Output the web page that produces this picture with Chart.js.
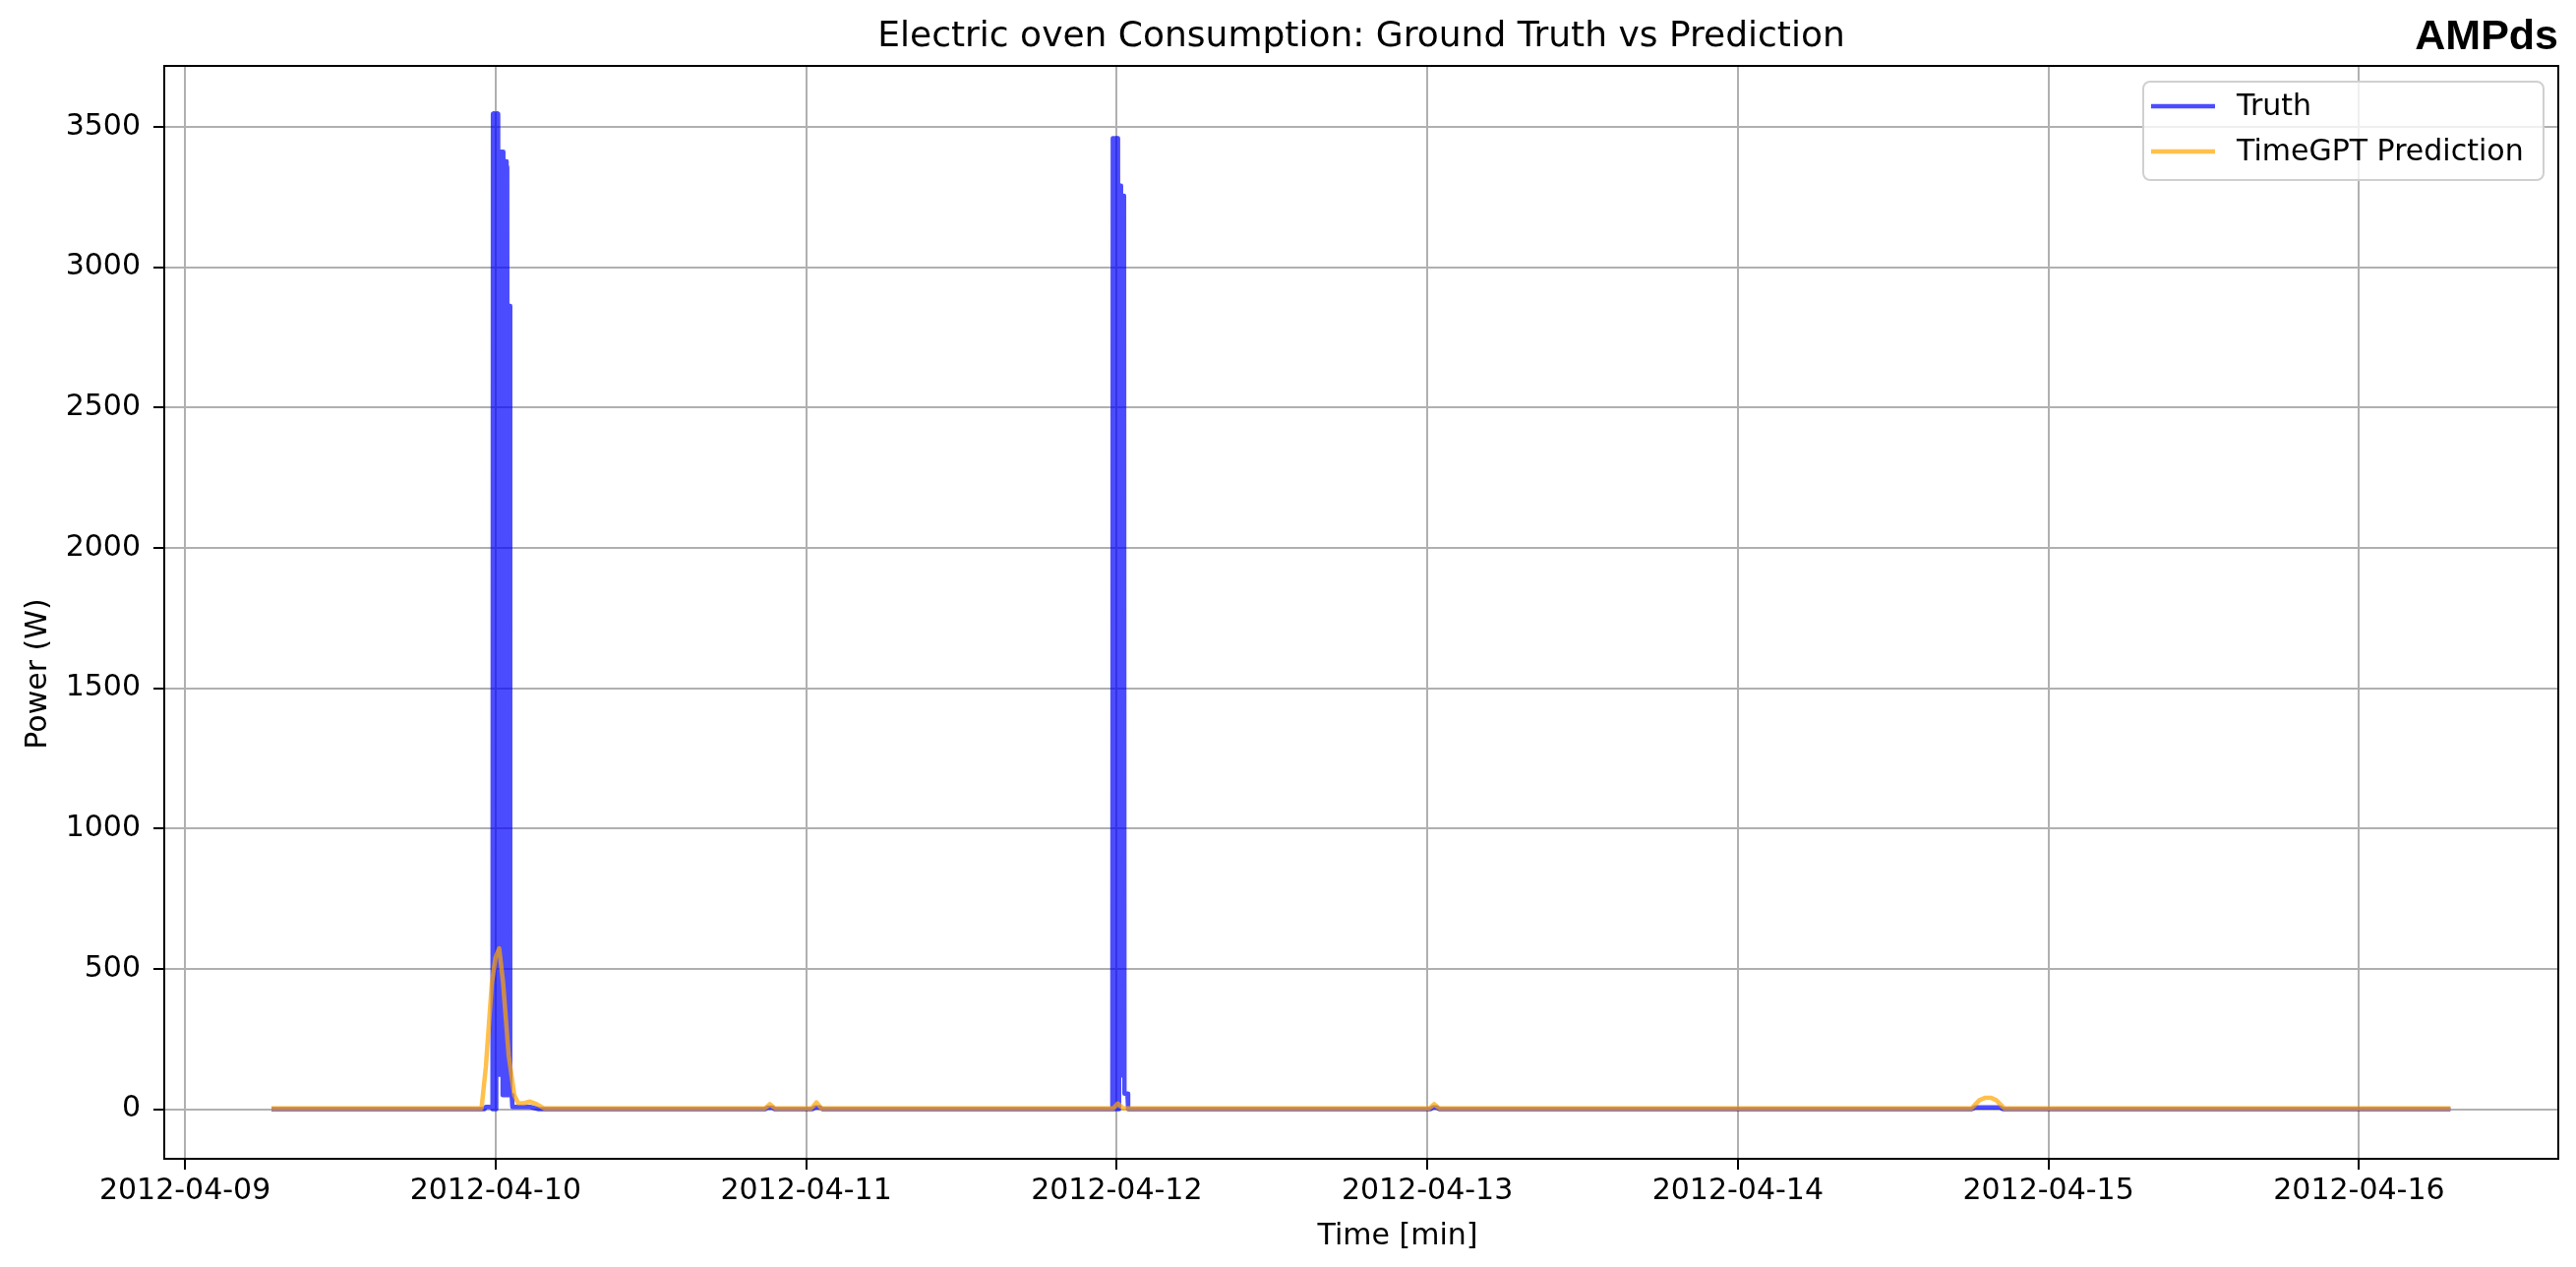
<!DOCTYPE html>
<html>
<head>
<meta charset="utf-8">
<title>Electric oven Consumption: Ground Truth vs Prediction</title>
<script src="https://cdn.jsdelivr.net/npm/chart.js@4/dist/chart.umd.min.js"></script>
<style>
  html, body { margin: 0; padding: 0; background: #fff; }
  #wrap { width: 2619px; height: 1288px; }
</style>
</head>
<body>
<div id="wrap"><canvas id="ovenChart" width="2619" height="1288"></canvas></div>
<script>
/* global Chart */
// x values are minutes since 2012-04-09 00:00
const truthMinutes = [
  401, 1388, 1395, 1420, 1426, 1428, 1431, 1434, 1437, 1440, 1443, 1446,
  1449, 1452, 1455, 1458, 1461, 1464, 1467, 1470, 1473, 1476, 1479, 1482,
  1485, 1488, 1491, 1494, 1497, 1500, 1503, 1506, 1508, 1515, 1518, 1600,
  1640, 2690, 2700, 2725, 2735, 2910, 2920, 2945, 2955,
  4300, 4302, 4305, 4308, 4311, 4314, 4317, 4320, 4323, 4326, 4329, 4331,
  4334, 4337, 4340, 4342, 4345, 4348, 4351, 4354, 4356, 4370, 4373,
  5775, 5785, 5805, 5815, 8284, 8300, 8415, 8430, 10504
];
const truthWatts = [
  0, 0, 8, 8, 0, 3546, 0, 3546, 0, 3546, 0, 3546,
  123, 3546, 123, 3411, 123, 3411, 123, 3411, 50, 3411, 50, 3377,
  50, 3377, 50, 3357, 50, 2862, 50, 2862, 50, 50, 8, 8,
  0, 0, 5, 5, 0, 0, 6, 6, 0,
  0, 3459, 0, 3459, 0, 3459, 0, 3459, 0, 3459, 0, 3290,
  120, 3290, 120, 3254, 120, 3254, 120, 3254, 55, 55, 0,
  0, 6, 6, 0, 0, 6, 6, 0, 0
];

const predMinutes = [
  401, 1375, 1395, 1423, 1440, 1457, 1475, 1501, 1527, 1545, 1571, 1600,
  1630, 1665, 2690, 2712, 2735, 2905, 2928, 2950, 4305, 4325, 4350,
  5770, 5792, 5815, 8284, 8320, 8345, 8375, 8398, 8435, 10504
];
const predWatts = [
  3, 3, 150, 450, 540, 573, 450, 190, 50, 21, 21, 27,
  18, 3, 3, 18, 3, 3, 24, 3, 3, 20, 3,
  3, 18, 3, 3, 32, 40, 40, 32, 3, 3
];

const dayTicks = [0, 1440, 2880, 4320, 5760, 7200, 8640, 10080];
const dayLabels = [
  "2012-04-09", "2012-04-10", "2012-04-11", "2012-04-12",
  "2012-04-13", "2012-04-14", "2012-04-15", "2012-04-16"
];
const powerTicks = [0, 500, 1000, 1500, 2000, 2500, 3000, 3500];

const chartTitle = "Electric oven Consumption: Ground Truth vs Prediction";
const cornerTag = "AMPds";
const xTitle = "Time [min]";
const yTitle = "Power (W)";

const FONT = "'DejaVu Sans', sans-serif";
const BLUE = "rgba(0, 0, 255, 0.7)";
const ORANGE = "rgba(255, 165, 0, 0.7)";

function toPoints(xs, ys) {
  return xs.map(function (x, i) {
    return { x: x, y: ys[i] };
  });
}

function roundedRect(ctx, x, y, w, h, r) {
  ctx.beginPath();
  ctx.moveTo(x + r, y);
  ctx.arcTo(x + w, y, x + w, y + h, r);
  ctx.arcTo(x + w, y + h, x, y + h, r);
  ctx.arcTo(x, y + h, x, y, r);
  ctx.arcTo(x, y, x + w, y, r);
  ctx.closePath();
}

// frame, titles and the boxed legend, drawn the matplotlib way
const decorations = {
  id: "decorations",
  afterDatasetsDraw(chart) {
    const ctx = chart.ctx;
    const a = chart.chartArea;
    ctx.save();
    ctx.strokeStyle = "#000";
    ctx.lineWidth = 2;
    ctx.strokeRect(a.left, a.top, a.right - a.left, a.bottom - a.top);
    ctx.restore();
  },
  afterDraw(chart) {
    const ctx = chart.ctx;
    const a = chart.chartArea;
    const midX = (a.left + a.right) / 2;
    ctx.save();
    ctx.fillStyle = "#000";

    ctx.font = "36px " + FONT;
    ctx.textAlign = "center";
    ctx.textBaseline = "alphabetic";
    ctx.fillText(chartTitle, midX, 47);

    ctx.font = "bold 43px 'Liberation Sans', Arial, sans-serif";
    ctx.textAlign = "right";
    ctx.fillText(cornerTag, 2601, 50);

    ctx.font = "30px " + FONT;
    ctx.textAlign = "center";
    ctx.fillText(xTitle, 1421, 1265);

    ctx.save();
    ctx.translate(47, 685);
    ctx.rotate(-Math.PI / 2);
    ctx.fillText(yTitle, 0, 0);
    ctx.restore();

    // legend
    const box = { x: 2179, y: 83, w: 407, h: 100 };
    roundedRect(ctx, box.x, box.y, box.w, box.h, 7);
    ctx.fillStyle = "rgba(255, 255, 255, 0.8)";
    ctx.fill();
    ctx.strokeStyle = "#d0d0d0";
    ctx.lineWidth = 2;
    ctx.stroke();

    const rows = [108, 154];
    const sets = [chart.data.datasets[0], chart.data.datasets[1]];
    ctx.textAlign = "left";
    ctx.textBaseline = "middle";
    sets.forEach(function (ds, i) {
      ctx.strokeStyle = ds.borderColor;
      ctx.lineWidth = 4.5;
      ctx.beginPath();
      ctx.moveTo(2187, rows[i]);
      ctx.lineTo(2252, rows[i]);
      ctx.stroke();
      ctx.fillStyle = "#000";
      ctx.fillText(ds.label, 2274, rows[i] + 1);
    });
    ctx.restore();
  },
};

const chart = new Chart(document.getElementById("ovenChart"), {
  type: "line",
  data: {
    datasets: [
      {
        label: "Truth",
        data: toPoints(truthMinutes, truthWatts),
        borderColor: BLUE,
        borderWidth: 4.5,
        order: 1,
      },
      {
        label: "TimeGPT Prediction",
        data: toPoints(predMinutes, predWatts),
        borderColor: ORANGE,
        borderWidth: 4.5,
        order: 0,
      },
    ],
  },
  options: {
    responsive: false,
    animation: false,
    devicePixelRatio: 1,
    layout: { padding: { top: 67, right: 18, left: 0, bottom: 0 } },
    elements: {
      point: { radius: 0 },
      line: { tension: 0, borderJoinStyle: "round", borderCapStyle: "butt", fill: false },
    },
    plugins: {
      legend: { display: false },
      title: { display: false },
      tooltip: { enabled: false },
    },
    scales: {
      x: {
        type: "linear",
        min: -96,
        max: 11004,
        afterBuildTicks: function (scale) {
          scale.ticks = dayTicks.map(function (v) {
            return { value: v };
          });
        },
        afterFit: function (scale) {
          scale.height = 110;
        },
        border: { display: false },
        grid: {
          color: "#b0b0b0",
          lineWidth: 2,
          tickColor: "#000",
          tickWidth: 2,
          tickLength: 11,
        },
        ticks: {
          callback: function (value, index) {
            return dayLabels[index];
          },
          color: "#000",
          font: { family: FONT, size: 30 },
          padding: 4,
          maxRotation: 0,
          autoSkip: false,
        },
      },
      y: {
        type: "linear",
        min: -177,
        max: 3717,
        afterBuildTicks: function (scale) {
          scale.ticks = powerTicks.map(function (v) {
            return { value: v };
          });
        },
        afterFit: function (scale) {
          scale.width = 167;
        },
        border: { display: false },
        grid: {
          color: "#b0b0b0",
          lineWidth: 2,
          tickColor: "#000",
          tickWidth: 2,
          tickLength: 11,
        },
        ticks: {
          callback: function (value) {
            return String(value);
          },
          color: "#000",
          font: { family: FONT, size: 30 },
          padding: 13,
        },
      },
    },
  },
  plugins: [decorations],
});
</script>
</body>
</html>
